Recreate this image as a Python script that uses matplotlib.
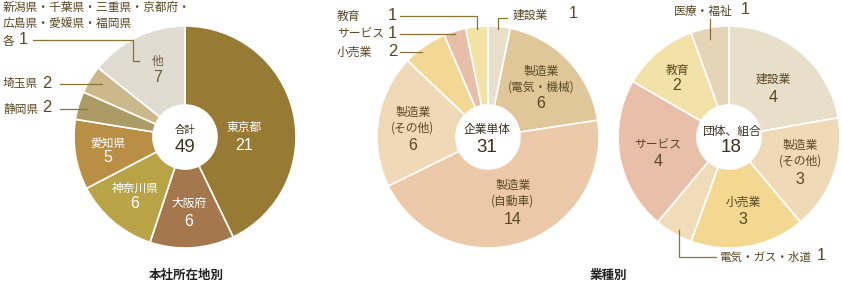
import matplotlib.pyplot as plt

plt.rcParams['font.family'] = ['Noto Sans CJK JP', 'DejaVu Sans']

W, H = 842, 285

# 本社所在地別
loc_names = ['東京都', '大阪府', '神奈川県', '愛知県', '静岡県', '埼玉県', '他']
loc_counts = [21, 6, 6, 5, 2, 2, 7]
loc_colors = ['#977a33', '#a4784c', '#b8a346', '#b98e45', '#ad9b66', '#ccb98b', '#e1dcd1']
loc_others = ['新潟県・千葉県・三重県・京都府・', '広島県・愛媛県・福岡県']

# 業種別 - 企業単体
ind_names = ['建設業', '製造業\n(電気・機械)', '製造業\n(自動車)', '製造業\n(その他)',
             '小売業', 'サービス', '教育']
ind_counts = [1, 6, 14, 6, 2, 1, 1]
ind_colors = ['#e8dfcc', '#dfc79a', '#ebc9a9', '#efd9b7', '#f2d893', '#e9bea8', '#f3e2a6']

# 業種別 - 団体、組合
grp_names = ['建設業', '製造業\n(その他)', '小売業', '電気・ガス・水道',
             'サービス', '教育', '医療・福祉']
grp_counts = [4, 3, 3, 1, 4, 2, 1]
grp_colors = ['#e8dfcb', '#efd9b7', '#f2d890', '#f0dcb8', '#e8bfa9', '#f3e2a7', '#e3d5b5']

R = 111
R_IN = 32
DARK = '#5a4824'
LINE = '#8b7433'
NUM_FONT = ['Liberation Sans', 'DejaVu Sans']

fig = plt.figure(figsize=(W / 100, H / 100), dpi=100)
ax = fig.add_axes([0, 0, 1, 1])


def donut(cx, cy, values, colors):
    ax.pie(values, colors=colors, startangle=90, counterclock=False,
           center=(cx, H - cy), radius=R, frame=True,
           wedgeprops=dict(width=R - R_IN, edgecolor='white', linewidth=1.2))


def txt(x, y, s, size=8.5, color=DARK, ha='center', **kw):
    ax.text(x, H - y, s, fontsize=size, color=color, ha=ha, va='center',
            linespacing=1.3, **kw)


def num(x, y, n, size=11.5, color=DARK, ha='center'):
    txt(x, y, str(n), size=size, color=color, ha=ha, family=NUM_FONT)


def line(xs, ys):
    ax.plot(xs, [H - y for y in ys], color=LINE, lw=0.9)


# --- 本社所在地別 ---
donut(185, 137, loc_counts, loc_colors)
pos1 = {'東京都': (244, 127, 145), '大阪府': (189, 203, 221), '神奈川県': (135, 188, 204),
        '愛知県': (108, 143, 158), '他': (158, 61, 77)}
for name, n in zip(loc_names, loc_counts):
    if name in pos1:
        x, y1, y2 = pos1[name]
        c = '#6b5c3a' if name == '他' else 'white'
        txt(x, y1, name, color=c)
        num(x, y2, n, color=c)
txt(185, 130, '合計', size=7.5, color='#3c3220')
num(185, 147, sum(loc_counts), size=13.5, color='#3c3220')

txt(3, 7, loc_others[0], ha='left')
txt(3, 23, loc_others[1], ha='left')
txt(3, 41, '各', ha='left')
num(19, 40, 1, ha='left')
line([33, 133, 133, 139], [40, 40, 61, 61])
for name, y, x_end in [('埼玉県', 84, 102), ('静岡県', 109, 87)]:
    n = loc_counts[loc_names.index(name)]
    txt(3, y, name, ha='left')
    num(42, y - 1, n, size=12, ha='left')
    line([60, x_end], [y, y])

txt(186, 275, '本社所在地別', size=9, color='#222222', fontweight='bold')

# --- 企業単体 ---
donut(488, 137, ind_counts, ind_colors)
pos2 = {'製造業\n(電気・機械)': (541, 79, 104), '製造業\n(自動車)': (513, 193, 219),
        '製造業\n(その他)': (413, 120, 145)}
for name, n in zip(ind_names, ind_counts):
    if name in pos2:
        x, y1, y2 = pos2[name]
        txt(x, y1, name)
        num(x, y2, n)
txt(487, 130, '企業単体', size=8.5, color='#3c3220')
num(487, 148, sum(ind_counts), size=13.5, color='#3c3220')

txt(513, 15, '建設業', ha='left')
num(569, 14, ind_counts[0], ha='left')
line([507, 498, 498], [18, 18, 29])
for name, y, x_end, y_end in [('教育', 16, 477, 29), ('サービス', 34, 455, 34), ('小売業', 52, 422, 52)]:
    n = ind_counts[ind_names.index(name)]
    txt(337, y, name, ha='left')
    num(388, y - 1, n, size=12, ha='left')
    if y_end != y:
        line([400, x_end, x_end], [y, y, y_end])
    else:
        line([400, x_end], [y, y])

# --- 団体、組合 ---
donut(729, 137, grp_counts, grp_colors)
pos3 = {'建設業': (773, 79, 97), '製造業\n(その他)': (800, 153, 180), '小売業': (743, 202, 219),
        'サービス': (658, 145, 162), '教育': (677, 70, 86)}
for name, n in zip(grp_names, grp_counts):
    if name in pos3:
        x, y1, y2 = pos3[name]
        txt(x, y1, name)
        num(x, y2, n)
txt(731, 131, '団体、組合', size=8.5, color='#3c3220')
num(731, 148, sum(grp_counts), size=13.5, color='#3c3220')

txt(674, 11, '医療・福祉', ha='left')
num(741, 10, grp_counts[-1], ha='left')
line([710, 710], [19, 39])
txt(719, 257, '電気・ガス・水道', size=8.3, ha='left')
num(817, 256, grp_counts[3], ha='left')
line([679, 679, 716], [230, 257, 257])

txt(608, 275, '業種別', size=9, color='#222222', fontweight='bold')

ax.set_xlim(0, W)
ax.set_ylim(0, H)
ax.set_aspect('auto')
ax.axis('off')

fig.savefig('out.png', dpi=100)
